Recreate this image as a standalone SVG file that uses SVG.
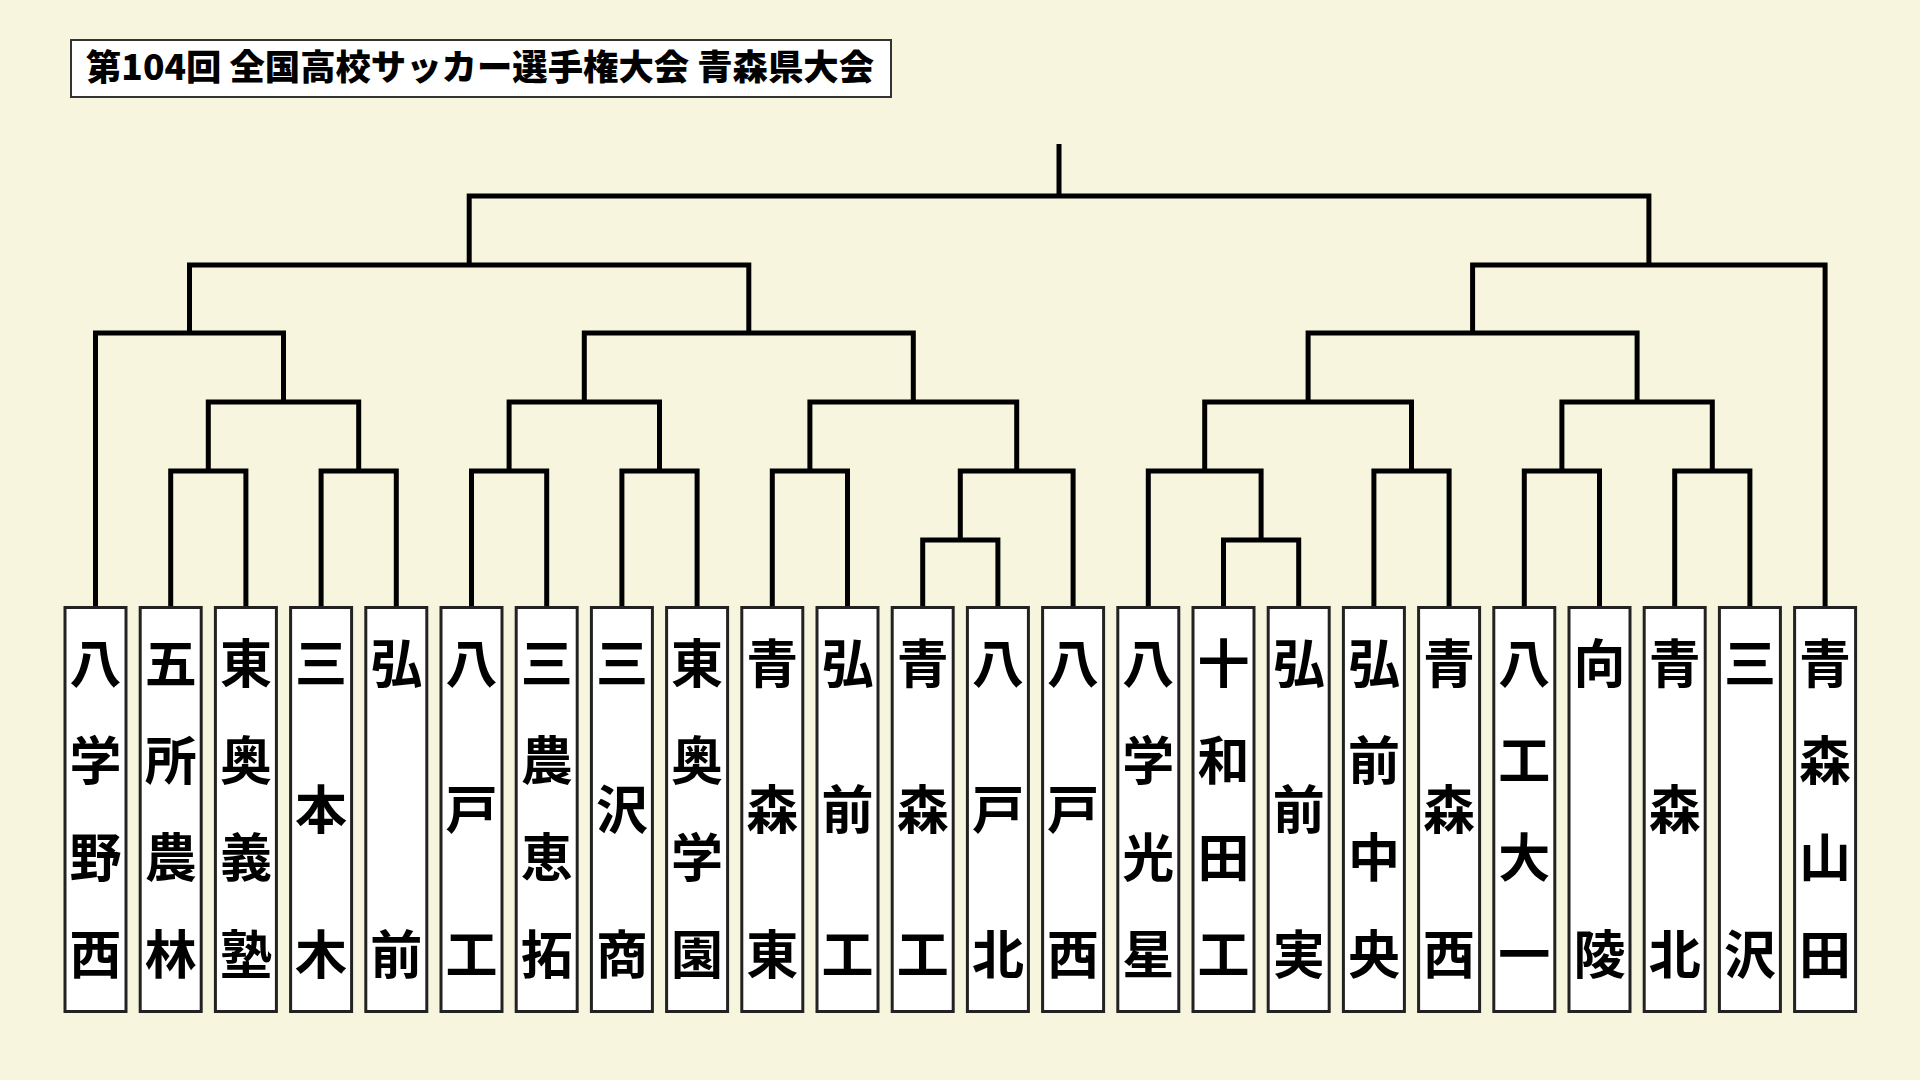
<svg xmlns="http://www.w3.org/2000/svg" width="1920" height="1080" viewBox="0 0 1920 1080">
<style>
.bg{fill:#F7F5DD}
.box{fill:#FFFFFF;stroke:#222222;stroke-width:3}
.tbox{fill:#FFFFFF;stroke:#333333;stroke-width:2}
.name{font-family:"Noto Sans CJK JP","Noto Sans CJK SC",sans-serif;font-weight:700;font-size:52px;fill:#000000;text-anchor:middle}
.title{font-family:"Noto Sans CJK JP","Noto Sans CJK SC",sans-serif;font-weight:900;font-size:35px;fill:#000000}
.con path{fill:none;stroke:#000000;stroke-width:5;stroke-linejoin:miter}
</style>
<rect class="bg" x="0" y="0" width="1920" height="1080"/>
<g id="title">
<rect class="tbox" x="71" y="40" width="820" height="57"/>
<text class="title" x="86" y="80" textLength="788" lengthAdjust="spacingAndGlyphs">第104回 全国高校サッカー選手権大会 青森県大会</text>
</g>
<g id="connectors" class="con">
<path d="M170.7 607 V471 H245.9 V607"/>
<path d="M321.1 607 V471 H396.3 V607"/>
<path d="M208.3 471 V402 H358.7 V471"/>
<path d="M95.5 607 V333 H283.5 V402"/>
<path d="M471.5 607 V471 H546.7 V607"/>
<path d="M621.9 607 V471 H697.1 V607"/>
<path d="M509.1 471 V402 H659.5 V471"/>
<path d="M772.3 607 V471 H847.5 V607"/>
<path d="M922.7 607 V540 H997.9 V607"/>
<path d="M960.3 540 V471 H1073.1 V607"/>
<path d="M809.9 471 V402 H1016.7 V471"/>
<path d="M584.3 402 V333 H913.3 V402"/>
<path d="M189.5 333 V265 H748.8 V333"/>
<path d="M1223.5 607 V540 H1298.7 V607"/>
<path d="M1148.3 607 V471 H1261.1 V540"/>
<path d="M1373.9 607 V471 H1449.1 V607"/>
<path d="M1204.7 471 V402 H1411.5 V471"/>
<path d="M1524.3 607 V471 H1599.5 V607"/>
<path d="M1674.7 607 V471 H1749.9 V607"/>
<path d="M1561.9 471 V402 H1712.3 V471"/>
<path d="M1308.1 402 V333 H1637.1 V402"/>
<path d="M1472.6 333 V265 H1825.1 V607"/>
<path d="M469.2 265 V196 H1648.9 V265"/>
<path d="M1059 196 V144"/>
</g>
<g id="n1"><rect class="box" x="65" y="607.5" width="61" height="404"/><text class="name" x="95.5" y="683">八</text><text class="name" x="95.5" y="780">学</text><text class="name" x="95.5" y="877">野</text><text class="name" x="95.5" y="974">西</text></g>
<g id="n2"><rect class="box" x="140.2" y="607.5" width="61" height="404"/><text class="name" x="170.7" y="683">五</text><text class="name" x="170.7" y="780">所</text><text class="name" x="170.7" y="877">農</text><text class="name" x="170.7" y="974">林</text></g>
<g id="n3"><rect class="box" x="215.4" y="607.5" width="61" height="404"/><text class="name" x="245.9" y="683">東</text><text class="name" x="245.9" y="780">奥</text><text class="name" x="245.9" y="877">義</text><text class="name" x="245.9" y="974">塾</text></g>
<g id="n4"><rect class="box" x="290.6" y="607.5" width="61" height="404"/><text class="name" x="321.1" y="683">三</text><text class="name" x="321.1" y="828.5">本</text><text class="name" x="321.1" y="974">木</text></g>
<g id="n5"><rect class="box" x="365.8" y="607.5" width="61" height="404"/><text class="name" x="396.3" y="683">弘</text><text class="name" x="396.3" y="974">前</text></g>
<g id="n6"><rect class="box" x="441" y="607.5" width="61" height="404"/><text class="name" x="471.5" y="683">八</text><text class="name" x="471.5" y="828.5">戸</text><text class="name" x="471.5" y="974">工</text></g>
<g id="n7"><rect class="box" x="516.2" y="607.5" width="61" height="404"/><text class="name" x="546.7" y="683">三</text><text class="name" x="546.7" y="780">農</text><text class="name" x="546.7" y="877">恵</text><text class="name" x="546.7" y="974">拓</text></g>
<g id="n8"><rect class="box" x="591.4" y="607.5" width="61" height="404"/><text class="name" x="621.9" y="683">三</text><text class="name" x="621.9" y="828.5">沢</text><text class="name" x="621.9" y="974">商</text></g>
<g id="n9"><rect class="box" x="666.6" y="607.5" width="61" height="404"/><text class="name" x="697.1" y="683">東</text><text class="name" x="697.1" y="780">奥</text><text class="name" x="697.1" y="877">学</text><text class="name" x="697.1" y="974">園</text></g>
<g id="n10"><rect class="box" x="741.8" y="607.5" width="61" height="404"/><text class="name" x="772.3" y="683">青</text><text class="name" x="772.3" y="828.5">森</text><text class="name" x="772.3" y="974">東</text></g>
<g id="n11"><rect class="box" x="817" y="607.5" width="61" height="404"/><text class="name" x="847.5" y="683">弘</text><text class="name" x="847.5" y="828.5">前</text><text class="name" x="847.5" y="974">工</text></g>
<g id="n12"><rect class="box" x="892.2" y="607.5" width="61" height="404"/><text class="name" x="922.7" y="683">青</text><text class="name" x="922.7" y="828.5">森</text><text class="name" x="922.7" y="974">工</text></g>
<g id="n13"><rect class="box" x="967.4" y="607.5" width="61" height="404"/><text class="name" x="997.9" y="683">八</text><text class="name" x="997.9" y="828.5">戸</text><text class="name" x="997.9" y="974">北</text></g>
<g id="n14"><rect class="box" x="1042.6" y="607.5" width="61" height="404"/><text class="name" x="1073.1" y="683">八</text><text class="name" x="1073.1" y="828.5">戸</text><text class="name" x="1073.1" y="974">西</text></g>
<g id="n15"><rect class="box" x="1117.8" y="607.5" width="61" height="404"/><text class="name" x="1148.3" y="683">八</text><text class="name" x="1148.3" y="780">学</text><text class="name" x="1148.3" y="877">光</text><text class="name" x="1148.3" y="974">星</text></g>
<g id="n16"><rect class="box" x="1193" y="607.5" width="61" height="404"/><text class="name" x="1223.5" y="683">十</text><text class="name" x="1223.5" y="780">和</text><text class="name" x="1223.5" y="877">田</text><text class="name" x="1223.5" y="974">工</text></g>
<g id="n17"><rect class="box" x="1268.2" y="607.5" width="61" height="404"/><text class="name" x="1298.7" y="683">弘</text><text class="name" x="1298.7" y="828.5">前</text><text class="name" x="1298.7" y="974">実</text></g>
<g id="n18"><rect class="box" x="1343.4" y="607.5" width="61" height="404"/><text class="name" x="1373.9" y="683">弘</text><text class="name" x="1373.9" y="780">前</text><text class="name" x="1373.9" y="877">中</text><text class="name" x="1373.9" y="974">央</text></g>
<g id="n19"><rect class="box" x="1418.6" y="607.5" width="61" height="404"/><text class="name" x="1449.1" y="683">青</text><text class="name" x="1449.1" y="828.5">森</text><text class="name" x="1449.1" y="974">西</text></g>
<g id="n20"><rect class="box" x="1493.8" y="607.5" width="61" height="404"/><text class="name" x="1524.3" y="683">八</text><text class="name" x="1524.3" y="780">工</text><text class="name" x="1524.3" y="877">大</text><text class="name" x="1524.3" y="974">一</text></g>
<g id="n21"><rect class="box" x="1569" y="607.5" width="61" height="404"/><text class="name" x="1599.5" y="683">向</text><text class="name" x="1599.5" y="974">陵</text></g>
<g id="n22"><rect class="box" x="1644.2" y="607.5" width="61" height="404"/><text class="name" x="1674.7" y="683">青</text><text class="name" x="1674.7" y="828.5">森</text><text class="name" x="1674.7" y="974">北</text></g>
<g id="n23"><rect class="box" x="1719.4" y="607.5" width="61" height="404"/><text class="name" x="1749.9" y="683">三</text><text class="name" x="1749.9" y="974">沢</text></g>
<g id="n24"><rect class="box" x="1794.6" y="607.5" width="61" height="404"/><text class="name" x="1825.1" y="683">青</text><text class="name" x="1825.1" y="780">森</text><text class="name" x="1825.1" y="877">山</text><text class="name" x="1825.1" y="974">田</text></g>
</svg>
